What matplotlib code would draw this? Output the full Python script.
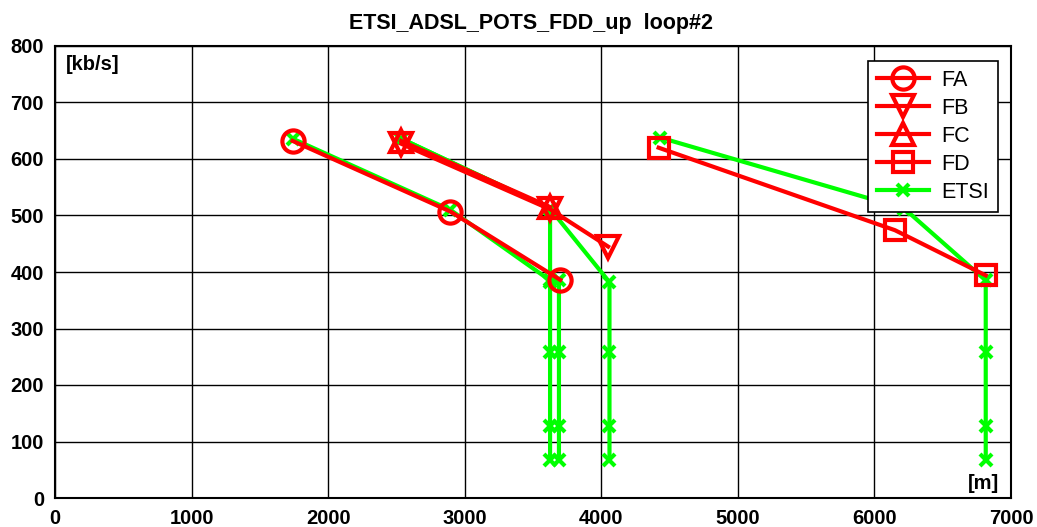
import matplotlib
matplotlib.use("Agg")
import matplotlib.pyplot as plt

plt.rcParams['font.family'] = ['Liberation Sans', 'DejaVu Sans']

# Data
fa_x = [1740, 2895, 3700]
fa_y = [632, 507, 386]
fb_x = [2535, 3625, 4050]
fb_y = [627, 511, 445]
fc_x = [2535, 3625]
fc_y = [632, 515]
fd_x = [4420, 6150, 6815]
fd_y = [620, 474, 394]

etsi_a_x = [1740, 2895, 3625, 3690, 3690, 3690, 3690]
etsi_a_y = [636, 510, 385, 385, 258, 128, 68]
etsi_b_x = [2535, 3625, 4060, 4060, 4060, 4060]
etsi_b_y = [636, 512, 382, 258, 128, 68]
etsi_c_x = [2535, 3625, 3625, 3625, 3625, 3625]
etsi_c_y = [636, 512, 382, 258, 128, 68]
etsi_d_x = [4430, 6220, 6815, 6815, 6815, 6815]
etsi_d_y = [638, 512, 385, 258, 128, 68]

xticks = [0, 1000, 2000, 3000, 4000, 5000, 6000, 7000]
yticks = [0, 100, 200, 300, 400, 500, 600, 700, 800]

fig = plt.figure(figsize=(10.37, 5.27), dpi=100)
ax = fig.add_axes([55 / 1037, 1 - 498 / 527, 956 / 1037, 452 / 527])

red = '#ff0000'
green = '#00ff00'
lw = 3
ms = 16
mew = 3

for ex, ey in [(etsi_a_x, etsi_a_y), (etsi_b_x, etsi_b_y), (etsi_c_x, etsi_c_y), (etsi_d_x, etsi_d_y)]:
    ax.plot(ex, ey, color=green, lw=lw, marker='x', ms=9, mew=3, zorder=2)

h_fa, = ax.plot(fa_x, fa_y, color=red, lw=lw, marker='o', ms=ms, mfc='none', mew=mew, label='FA', zorder=3)
h_fb, = ax.plot(fb_x, fb_y, color=red, lw=lw, marker='v', ms=ms, mfc='none', mew=mew, label='FB', zorder=3)
h_fc, = ax.plot(fc_x, fc_y, color=red, lw=lw, marker='^', ms=ms, mfc='none', mew=mew, label='FC', zorder=3)
h_fd, = ax.plot(fd_x, fd_y, color=red, lw=lw, marker='s', ms=ms - 1, mfc='none', mew=mew, label='FD', zorder=3)
h_et, = ax.plot([], [], color=green, lw=lw, marker='x', ms=9, mew=3, label='ETSI')

ax.set_xlim(0, 7000)
ax.set_ylim(0, 800)
ax.set_xticks(xticks)
ax.set_yticks(yticks)
ax.grid(True, color='black', lw=1)
ax.set_axisbelow(True)
for s in ax.spines.values():
    s.set_linewidth(1.5)
ax.tick_params(length=0, labelsize=14.5, pad=8)
for lab in ax.get_xticklabels() + ax.get_yticklabels():
    lab.set_fontweight('bold')

fig.text(531 / 1037, 1 - 24 / 527, 'ETSI_ADSL_POTS_FDD_up  loop#2', fontsize=15.5, fontweight='bold',
         ha='center', va='center')
ax.text(0.011, 0.98, '[kb/s]', transform=ax.transAxes, fontsize=14.5, fontweight='bold',
        va='top', ha='left', bbox=dict(facecolor='white', edgecolor='none', pad=1))
ax.text(0.988, 0.012, '[m]', transform=ax.transAxes, fontsize=14.5, fontweight='bold',
        va='bottom', ha='right', bbox=dict(facecolor='white', edgecolor='none', pad=1))

leg = ax.legend(handles=[h_fa, h_fb, h_fc, h_fd, h_et], loc='upper right',
                fontsize=15.5, fancybox=False,
                framealpha=1, edgecolor='black', handlelength=2.4, labelspacing=0.33,
                borderpad=0.4, handletextpad=0.6, borderaxespad=0)
leg.set_bbox_to_anchor((998 / 1037, 1 - 61 / 527), transform=fig.transFigure)
leg.get_frame().set_linewidth(1.2)

fig.savefig('out.png', dpi=100)
